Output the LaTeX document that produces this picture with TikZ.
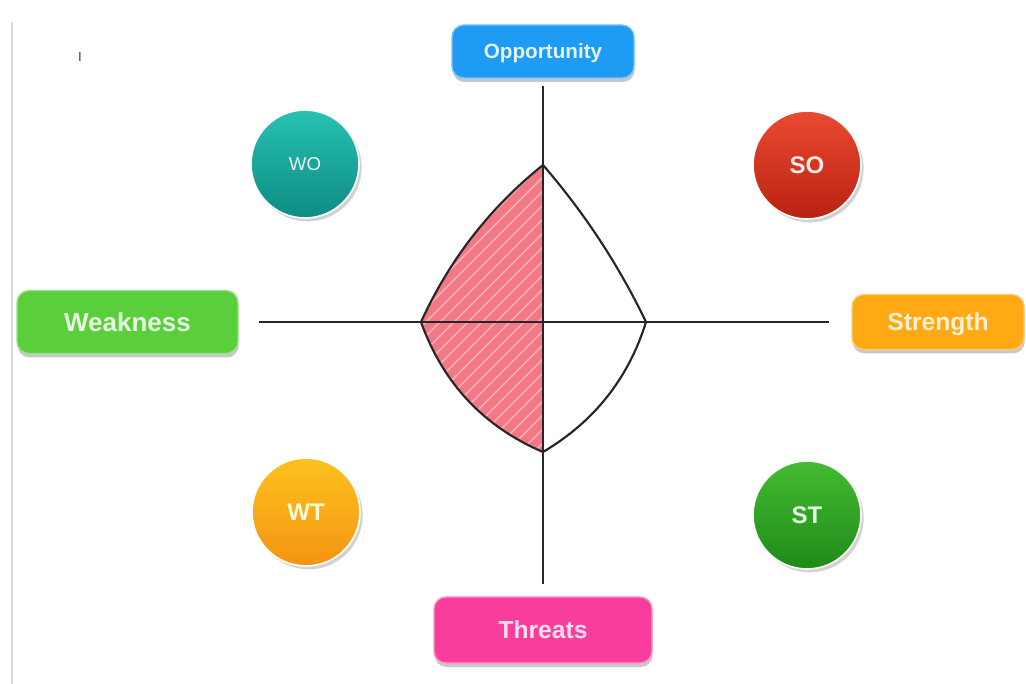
\documentclass[tikz,border=0pt]{standalone}
\usepackage{fontspec}
\setsansfont{Liberation Sans}
\usetikzlibrary{shadows,shadings}
\definecolor{oppc}{HTML}{1E9BF2}
\definecolor{weakc}{HTML}{5BCF3B}
\definecolor{strc}{HTML}{FFA914}
\definecolor{thrc}{HTML}{F93D9C}
\definecolor{hatchc}{HTML}{F27886}
\definecolor{axisgray}{HTML}{DADADA}
\definecolor{HTMLWO1}{HTML}{26C2B2}
\definecolor{HTMLWO2}{HTML}{0E8C82}
\definecolor{HTMLSO1}{HTML}{EA4A30}
\definecolor{HTMLSO2}{HTML}{B82212}
\definecolor{HTMLWT1}{HTML}{FFC21E}
\definecolor{HTMLWT2}{HTML}{F39412}
\definecolor{HTMLST1}{HTML}{44BC32}
\definecolor{HTMLST2}{HTML}{1E8A18}
\tikzset{
  tag/.style={rounded corners=9pt, font=\sffamily\bfseries\fontsize{18.5}{20}\selectfont,
    inner sep=0pt, line width=1pt, text depth=0pt,
    drop shadow={shadow xshift=0.5pt, shadow yshift=-3pt, opacity=0.3, fill=black!70}},
  ball/.style={circle, minimum size=81pt, inner sep=0pt, line width=1.2pt, draw=white,
    text depth=0pt,
    font=\sffamily\bfseries\fontsize{18}{20}\selectfont, shading=axis, shading angle=0,
    drop shadow={shadow xshift=2pt, shadow yshift=-2.5pt, opacity=0.25, fill=black!70}},
  axisline/.style={line width=1.3pt, black!85},
  kiteline/.style={line width=1.6pt, black!85}
}
\begin{document}
\begin{tikzpicture}[x=0.75pt, y=-0.75pt]
\useasboundingbox[fill=white] (0,0) rectangle (1026,684);
% page edge line and cursor mark
\draw[axisgray, line width=1.5pt] (12,22) -- (12,684);
\node[text=black!45!blue!60!gray, font=\sffamily\fontsize{10}{11}\selectfont] (cursor) at (80,57) {I};

% labels
\node[tag, fill=oppc, draw=oppc!60!white, text=oppc!12!white, minimum width=136.5pt, minimum height=39.75pt,
  font=\sffamily\bfseries\fontsize{15.5}{17}\selectfont] (opp) at (543,51.5) {Opportunity};
\node[tag, fill=weakc, draw=weakc!60!white, text=weakc!15!white, minimum width=165.75pt, minimum height=47.25pt,
  font=\sffamily\bfseries\fontsize{19.5}{21}\selectfont] (weak) at (127.5,322) {Weakness};
\node[tag, fill=strc, draw=strc!60!white, text=strc!18!white, minimum width=129pt, minimum height=41.25pt] (str) at (938,322) {Strength};
\node[tag, fill=thrc, draw=thrc!55!white, text=thrc!18!white, minimum width=163.5pt, minimum height=49.5pt] (thr) at (543,630) {Threats};

% circles
\node[ball, top color=HTMLWO1, bottom color=HTMLWO2, text=cyan!8!white,
  font=\sffamily\fontsize{14}{16}\selectfont] (wo) at (305,164) {WO};
\node[ball, top color=HTMLSO1, bottom color=HTMLSO2, text=red!8!white] (so) at (807,165) {SO};
\node[ball, top color=HTMLWT1, bottom color=HTMLWT2, text=yellow!15!white] (wt) at (306,512) {WT};
\node[ball, top color=HTMLST1, bottom color=HTMLST2, text=green!8!white] (st) at (807,515) {ST};

% kite vertices
\coordinate (kt) at (543,165);
\coordinate (kr) at (646,322);
\coordinate (kb) at (543,452);
\coordinate (kl) at (421,322);

% hatched left half
\begin{scope}
  \clip (kt) .. controls (490.1,207.4) and (449.4,259.7) .. (kl)
    .. controls (443,383.3) and (483.7,426.7) .. (kb) -- cycle;
  \fill[hatchc] (400,150) rectangle (560,470);
  \foreach \c in {580,594,...,1010}{
    \draw[white, opacity=0.4, line width=1.3pt] (\c-470,470) -- (\c-150,150);
  }
\end{scope}

% axes
\draw[axisline, shorten <=5.25pt, shorten >=9pt] (opp.south) -- (thr.north);
\draw[axisline, shorten <=15pt, shorten >=16.5pt] (weak.east) -- (str.west);

% kite outline
\draw[kiteline, line join=round] (kt) .. controls (584.3,212.8) and (618.7,265) .. (kr)
  .. controls (628.5,378.4) and (594.2,421.7) .. (kb)
  .. controls (483.7,426.7) and (443,383.3) .. (kl)
  .. controls (449.4,259.7) and (490.1,207.4) .. (kt);
\end{tikzpicture}
\end{document}
